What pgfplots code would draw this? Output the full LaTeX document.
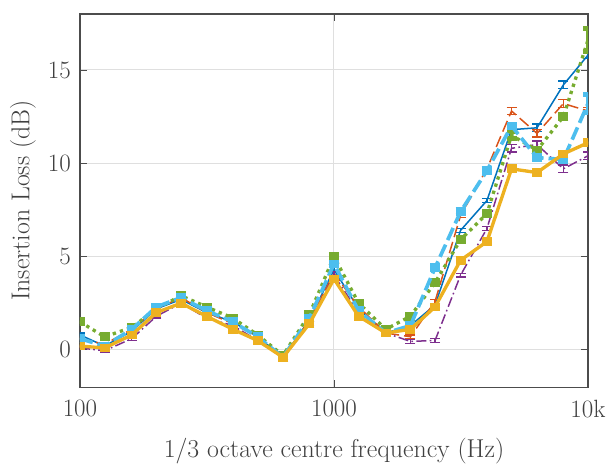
\documentclass[border=0pt]{standalone}
\usepackage{pgfplots}
\usepackage{pgfplotstable}
\pgfplotsset{compat=1.18}
\definecolor{c1}{rgb}{0,0.447,0.741}
\definecolor{c2}{rgb}{0.85,0.325,0.098}
\definecolor{c3}{rgb}{0.494,0.184,0.556}
\definecolor{c4}{rgb}{0.466,0.674,0.188}
\definecolor{c5}{rgb}{0.301,0.745,0.933}
\definecolor{c6}{rgb}{0.929,0.694,0.125}
\pgfplotstableread{
f     a     ea   b     eb   c     ec   d     ed   e     ee   g     eg
100   0.8   0.1  0.6   0.1  0.1   0.1  1.5   0.1  0.6   0.1  0.2   0.1
125   0.2   0.1  0.3   0.1  -0.05 0.1  0.7   0.1  0.2   0.1  0.1   0.1
160   1.0   0.1  1.1   0.1  0.6   0.1  1.2   0.1  1.1   0.1  0.8   0.1
200   2.2   0.1  2.2   0.1  1.8   0.1  2.2   0.1  2.3   0.1  2.0   0.1
250   2.7   0.1  2.8   0.1  2.5   0.1  2.9   0.1  2.8   0.1  2.5   0.1
315   2.0   0.1  2.0   0.1  1.7   0.1  2.3   0.1  2.1   0.1  1.8   0.1
400   1.5   0.1  1.4   0.1  1.3   0.1  1.7   0.1  1.5   0.1  1.1   0.1
500   0.7   0.1  0.7   0.1  0.5   0.1  0.8   0.1  0.7   0.1  0.5   0.1
630   -0.4  0.1  -0.5  0.1  -0.4  0.1  -0.3  0.1  -0.4  0.1  -0.4  0.1
800   1.6   0.1  1.6   0.1  1.4   0.1  1.9   0.1  1.7   0.1  1.4   0.1
1000  4.3   0.1  4.1   0.1  4.0   0.2  5.0   0.1  4.6   0.1  3.8   0.1
1250  2.2   0.1  2.3   0.1  2.0   0.1  2.5   0.1  2.1   0.1  1.8   0.1
1600  0.9   0.1  0.9   0.1  0.9   0.1  1.1   0.1  0.9   0.1  0.9   0.1
2000  1.3   0.1  0.7   0.1  0.45  0.1  1.8   0.1  1.3   0.1  1.1   0.1
2500  2.4   0.1  2.6   0.1  0.5   0.1  3.6   0.1  4.4   0.1  2.3   0.1
3150  6.4   0.1  7.2   0.1  4.0   0.1  5.9   0.1  7.4   0.1  4.8   0.1
4000  8.0   0.1  9.7   0.1  6.5   0.1  7.3   0.1  9.6   0.1  5.8   0.1
5000  11.8  0.1  12.8  0.2  10.8  0.2  11.5  0.2  12.0  0.1  9.7   0.1
6300  11.9  0.2  11.6  0.2  11.0  0.2  10.7  0.1  10.3  0.1  9.5   0.1
8000  14.2  0.2  13.2  0.2  9.7   0.2  12.5  0.1  10.2  0.1  10.5  0.1
10000 15.8  0.2  12.8  0.2  10.4  0.2  16.6  0.6  13.2  0.5  11.1  0.1
}\data
\begin{document}
\begin{tikzpicture}
\begin{axis}[
  scale only axis,
  width=305pt, height=224pt,
  xmode=log, log basis x=10,
  xmin=100, xmax=10000, ymin=-2, ymax=18,
  xtick={100,1000,10000}, xticklabels={100,1000,10k},
  ytick={0,5,10,15},
  tick align=inside,
  grid=both,
  major grid style={gray!25, line width=0.6pt},
  minor grid style={gray!55, dotted, line width=0.5pt},
  minor y tick num=0,
  axis line style={gray!60!black, line width=0.7pt},
  tick style={gray!60!black, line width=0.5pt},
  ticklabel style={font=\fontsize{15}{17}\selectfont, text=black!75},
  label style={font=\fontsize{15.5}{18}\selectfont, text=black!75},
  xlabel={1/3 octave centre frequency (Hz)},
  ylabel={Insertion Loss (dB)},
  xticklabel style={yshift=-4pt},
  yticklabel style={xshift=-2pt},
  xlabel style={at={(axis description cs:0.5,0)}, anchor=north, yshift=-27pt},
  ylabel style={at={(axis description cs:0,0.5)}, anchor=south, yshift=23pt},
  /pgf/number format/assume math mode=true,
  every axis plot/.append style={error bars/y dir=both, error bars/y explicit},
]
\addplot[c1, line width=0.9pt, error bars/error bar style={line width=0.8pt}, error bars/error mark options={rotate=90, mark size=3pt, line width=0.8pt}]
  table[x=f, y=a, y error=ea]{\data};
\addplot[c2, line width=0.9pt, dash pattern=on 7pt off 3pt, error bars/error bar style={line width=0.8pt, solid}, error bars/error mark options={rotate=90, mark size=3pt, line width=0.8pt}]
  table[x=f, y=b, y error=eb]{\data};
\addplot[c3, line width=0.9pt, dash pattern=on 6pt off 2pt on 1pt off 2pt, error bars/error bar style={line width=0.8pt, solid}, error bars/error mark options={rotate=90, mark size=3pt, line width=0.8pt}]
  table[x=f, y=c, y error=ec]{\data};
\addplot[c4, line width=2pt, dash pattern=on 2pt off 2.5pt, error bars/error bar style={line width=2pt, solid}, error bars/error mark options={rotate=90, mark size=3pt, line width=3pt}]
  table[x=f, y=d, y error=ed]{\data};
\addplot[c5, line width=2.2pt, dash pattern=on 8pt off 3pt, error bars/error bar style={line width=2.2pt, solid}, error bars/error mark options={rotate=90, mark size=3pt, line width=3pt}]
  table[x=f, y=e, y error=ee]{\data};
\addplot[c6, line width=2pt, error bars/error bar style={line width=2pt}, error bars/error mark options={rotate=90, mark size=3pt, line width=3pt}]
  table[x=f, y=g, y error=eg]{\data};
\end{axis}
\pgfresetboundingbox
\path ([xshift=-48pt,yshift=-47pt]current axis.south west) rectangle ([xshift=12pt,yshift=8.4pt]current axis.north east);
\end{tikzpicture}
\end{document}
